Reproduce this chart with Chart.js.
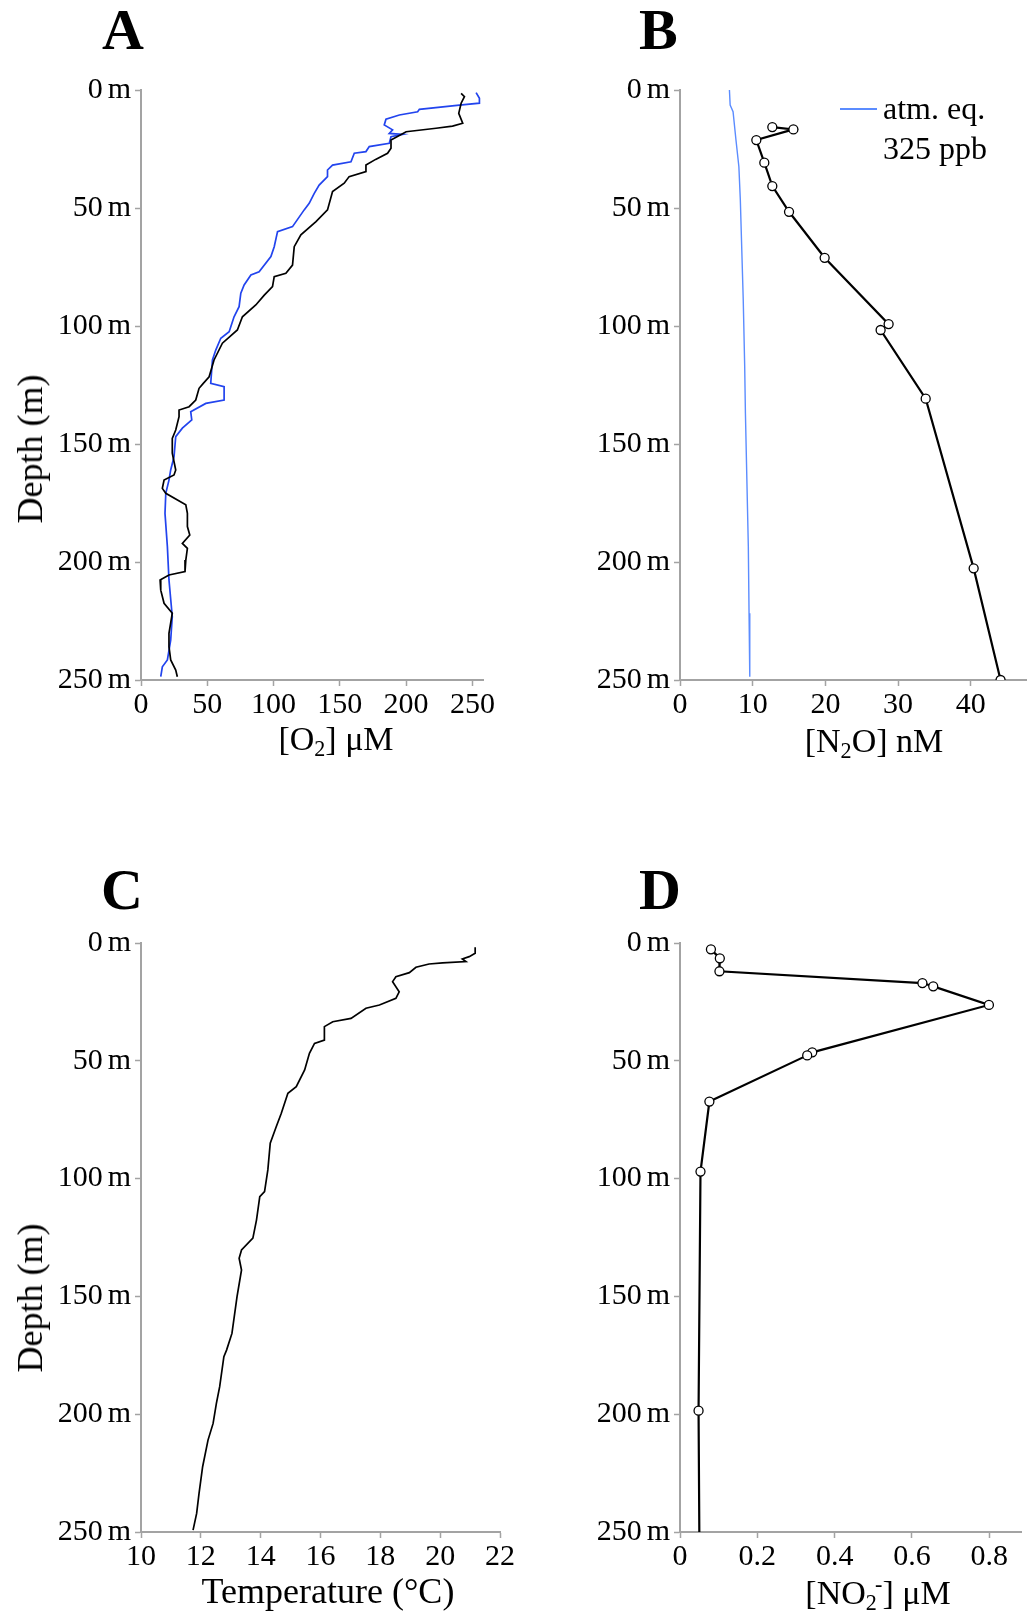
<!DOCTYPE html>
<html>
<head>
<meta charset="utf-8">
<script src="https://cdn.jsdelivr.net/npm/chart.js@4.4.1/dist/chart.umd.min.js"></script>
<style>
    body { margin: 0; background: #fff; }
    #page { position: relative; width: 1036px; height: 1616px; font-family: "Liberation Serif", serif; color: #000; }
    canvas { position: absolute; }
    .lbl { position: absolute; font-weight: bold; font-size: 58px; line-height: 58px; }
    .xt { position: absolute; font-size: 34px; line-height: 34px; white-space: nowrap; transform: translateX(-50%); }
    .yt { position: absolute; font-size: 36px; line-height: 36px; white-space: nowrap; transform: translate(-50%, -50%) rotate(-90deg); }
    .xt sub { font-size: 65%; vertical-align: -0.25em; line-height: 0; }
    .xt sup { font-size: 65%; vertical-align: 0.55em; line-height: 0; margin-left: -0.08em; }
    .leg { position: absolute; left: 883px; top: 88px; font-size: 32px; line-height: 40px; }
    .legline { position: absolute; left: 840px; top: 108px; width: 37px; height: 2px; background: #5b8cff; }
</style>
</head>
<body>
<div id="page">
    <canvas id="chartA" width="518" height="808" style="left:0;top:0"></canvas>
    <canvas id="chartB" width="518" height="808" style="left:518px;top:0"></canvas>
    <canvas id="chartC" width="518" height="808" style="left:0;top:808px"></canvas>
    <canvas id="chartD" width="518" height="808" style="left:518px;top:808px"></canvas>

    <div class="lbl" style="left:102px;top:1px">A</div>
    <div class="lbl" style="left:639px;top:1px">B</div>
    <div class="lbl" style="left:101px;top:861px">C</div>
    <div class="lbl" style="left:639px;top:861px">D</div>

    <div class="yt" style="left:30px;top:449px">Depth (m)</div>
    <div class="yt" style="left:30px;top:1298px">Depth (m)</div>

    <div class="xt" style="left:336px;top:722px">[O<sub>2</sub>] μM</div>
    <div class="xt" style="left:874px;top:724px">[N<sub>2</sub>O] nM</div>
    <div class="xt" style="left:328px;top:1573px;font-size:36px;line-height:36px">Temperature (°C)</div>
    <div class="xt" style="left:878px;top:1576px">[NO<sub>2</sub><sup>-</sup>] μM</div>

    <div class="legline"></div>
    <div class="leg">atm. eq.<br>325 ppb</div>
</div>
<script>
// depth axis shared by all four panels
var depthTicks = [0, 50, 100, 150, 200, 250];

// A: oxygen profiles
var o2BlackDepth = [1.4, 2.8, 5.6, 9.9, 14.1, 15.3, 16.2, 17.7, 21.2, 24.7, 26.8, 29.4, 31.8, 34.6, 36.7, 39.5, 43, 50.8, 55.8, 61.4,
    66.4, 74.2, 77.7, 79.1, 83.3, 86.9, 91.1, 96.1, 101.7, 107.3, 114.4, 121.5, 124.3, 126.4, 131.4, 134.2, 135.6, 138.4, 144.1, 147.6,
    153.9, 161, 163.1, 165.3, 168.8, 170.9, 175.8, 179.4, 185, 188.6, 192.1, 194.2, 199.2, 204.1, 205.5, 207.6, 211.9, 217.5, 221.7, 230.2,
    235.9, 241.5, 245.8, 248.6];
var o2Black = [241.5, 244, 241.5, 239.7, 242.7, 235, 222.6, 200, 188.6, 188.6, 186, 177, 169.7, 169.7, 157, 153.3, 144.5, 140.7, 132, 120.6,
    115.6, 114.3, 109.3, 100.5, 99.2, 93, 86.6, 76.5, 72.7, 61.4, 55.1, 51.4, 47, 43.8, 41.3, 36.3, 28.7, 28.7, 26.2, 23.6,
    23.6, 26.2, 24.9, 17.4, 16.1, 18.7, 33.8, 35, 35, 36.8, 31.2, 35, 33.8, 33.2, 21.1, 14.4, 14.9, 17.4, 23.6, 21.1,
    21.1, 22.4, 26.2, 27.4];
var o2BlueDepth = [1.1, 3.5, 5.6, 6.4, 8.2, 9.2, 10.6, 12.4, 14.8, 16.9, 18.4, 18.8, 19.8, 22.6, 24, 26.1, 26.8, 30.4, 31.8, 33.9,
    36.7, 40.3, 43.8, 48, 50.8, 57.9, 60, 66.4, 70.6, 77, 78.4, 82.6, 86.1, 91.8, 96.1, 102.4, 105.2, 110.2, 114.4, 124.3,
    125.7, 131.4, 132.8, 136.3, 139.8, 143.3, 146.9, 155.4, 161, 165.3, 170.9, 179.4, 193.5, 207.6, 223.2, 233.1, 241.5, 244.4, 248.6];
var o2Blue = [252.8, 255.3, 255.3, 240.2, 210, 208.7, 194.9, 184.8, 183.5, 189.8, 187.3, 197.4, 188.6, 187.3, 172.2, 169.7, 160.9, 158.4, 144.5, 140.7,
    140.7, 134.4, 130.7, 126.9, 123.1, 114.3, 103, 100.5, 98, 89.1, 82.9, 77.8, 75.3, 74, 70.2, 66.5, 60.2, 56.4, 53.9, 52.6,
    62.7, 62.7, 48.9, 37.5, 38.3, 31.2, 26.2, 24.9, 22.4, 21.1, 18.7, 18.1, 19.9, 21.1, 23.6, 22.4, 19.9, 16.1, 14.9];
var o2Ticks = [0, 50, 100, 150, 200, 250];

// B: nitrous oxide
var n2oDepth = [15.7, 16.7, 21.2, 30.8, 40.7, 51.6, 71.1, 99.2, 101.7, 130.8, 202.7, 250];
var n2o = [12.7, 15.6, 10.5, 11.6, 12.7, 15.0, 19.9, 28.7, 27.6, 33.8, 40.4, 44.1];
var n2oEqDepth = [0, 6.4, 9.2, 21.2, 32.5, 46.6, 67.8, 89, 117.2, 137, 165.3, 193.5, 221.7, 248.6];
var n2oEq = [6.8, 6.9, 7.3, 7.7, 8.1, 8.3, 8.5, 8.7, 8.9, 9.0, 9.2, 9.4, 9.5, 9.6];
var n2oTicks = [0, 10, 20, 30, 40];

// C: temperature
var tempDepth = [1.8, 4.4, 5.8, 6.8, 7.9, 8.4, 8.9, 10.3, 12.6, 14.3, 16.4, 20.7, 23.5, 26.3, 27.7, 32, 33.4, 35.5, 41.2, 42.6,
    46.8, 53.9, 61, 63.8, 72.3, 78, 85, 96.3, 105.5, 107.7, 117.6, 125.3, 130.3, 133.8, 138.8, 150.1, 165.7, 172.8, 175.6, 188.3,
    195.4, 203.9, 211, 222.3, 233.6, 242.1, 249.2];
var temp = [21.17, 21.17, 20.97, 20.74, 20.86, 20.08, 19.63, 19.19, 18.97, 18.52, 18.41, 18.63, 18.52, 17.97, 17.52, 17.02, 16.41, 16.13, 16.13, 15.8,
    15.63, 15.47, 15.19, 14.91, 14.69, 14.52, 14.32, 14.24, 14.13, 13.97, 13.86, 13.74, 13.36, 13.28, 13.36, 13.21, 13.04, 12.86, 12.77, 12.63,
    12.52, 12.41, 12.24, 12.06, 11.94, 11.86, 11.74];
var tempTicks = [10, 12, 14, 16, 18, 20, 22];

// D: nitrite
var no2Depth = [2.7, 6.5, 12.0, 17.0, 18.4, 26.3, 46.4, 47.7, 67.3, 97.0, 198.5, 250];
var no2 = [0.080, 0.103, 0.102, 0.627, 0.655, 0.799, 0.342, 0.329, 0.076, 0.053, 0.048, 0.050];
var no2Ticks = [0, 0.2, 0.4, 0.6, 0.8];

var AXIS_GREY = "#a3a3a3";
var tickFont = { family: "'Liberation Serif', serif", size: 30 };

function zip(xs, ys) {
    return xs.map(function (x, i) { return { x: x, y: ys[i] }; });
}

function lineSet(values, depths, color, width) {
    return {
        data: zip(values, depths),
        showLine: true,
        borderColor: color,
        borderWidth: width,
        pointRadius: 0,
        tension: 0,
    };
}

function markerSet(values, depths, lastMarker) {
    var radii = values.map(function (v, i) { return (i === values.length - 1 && !lastMarker) ? 0 : 4.5; });
    return {
        data: zip(values, depths),
        showLine: true,
        borderColor: "#000",
        borderWidth: 2.2,
        pointRadius: radii,
        pointBackgroundColor: "#fff",
        pointBorderColor: "#000",
        pointBorderWidth: 1.3,
        tension: 0,
    };
}

// area = pixel box of the plot inside its canvas
function depthChart(canvasId, area, xAxis, datasets) {
    var canvas = document.getElementById(canvasId);
    var W = canvas.width, H = canvas.height;
    return new Chart(canvas.getContext("2d"), {
        type: "scatter",
        data: { datasets: datasets },
        options: {
            responsive: false,
            animation: false,
            layout: { padding: { left: 0, top: area.top, right: W - area.right, bottom: 0 } },
            plugins: { legend: { display: false }, tooltip: { enabled: false } },
            scales: {
                x: {
                    type: "linear",
                    position: "bottom",
                    min: xAxis.min,
                    max: xAxis.max,
                    afterBuildTicks: function (s) { s.ticks = xAxis.ticks.map(function (v) { return { value: v }; }); },
                    afterFit: function (s) { s.height = H - area.bottom; },
                    grid: { display: true, drawOnChartArea: false, drawTicks: true, tickLength: 6, tickWidth: 1.5, color: AXIS_GREY },
                    border: { display: true, color: AXIS_GREY, width: 2 },
                    ticks: { font: tickFont, color: "#000", padding: 1, maxRotation: 0, callback: function (v) { return String(v); } },
                },
                y: {
                    type: "linear",
                    position: "left",
                    reverse: true,
                    min: 0,
                    max: 250,
                    afterBuildTicks: function (s) { s.ticks = depthTicks.map(function (v) { return { value: v }; }); },
                    afterFit: function (s) { s.width = area.left; },
                    grid: { display: true, drawOnChartArea: false, drawTicks: true, tickLength: 6, tickWidth: 1.5, color: AXIS_GREY },
                    border: { display: true, color: AXIS_GREY, width: 2 },
                    ticks: { font: tickFont, color: "#000", padding: 4, callback: function (v) { return v + "\u2006m"; } },
                },
            },
        },
    });
}

depthChart("chartA", { left: 141, top: 90, right: 483, bottom: 680 },
    { min: 0, max: 258, ticks: o2Ticks },
    [lineSet(o2Black, o2BlackDepth, "#000", 1.7), lineSet(o2Blue, o2BlueDepth, "#2244ee", 1.7)]);

depthChart("chartB", { left: 162, top: 90, right: 508, bottom: 680 },
    { min: 0, max: 47.6, ticks: n2oTicks },
    [lineSet(n2oEq, n2oEqDepth, "#5b8cff", 1.4), markerSet(n2o, n2oDepth, true)]);

depthChart("chartC", { left: 141, top: 135, right: 500, bottom: 724 },
    { min: 10, max: 22, ticks: tempTicks },
    [lineSet(temp, tempDepth, "#000", 1.7)]);

depthChart("chartD", { left: 162, top: 135, right: 503, bottom: 724 },
    { min: 0, max: 0.882, ticks: no2Ticks },
    [markerSet(no2, no2Depth, false)]);
</script>
</body>
</html>
